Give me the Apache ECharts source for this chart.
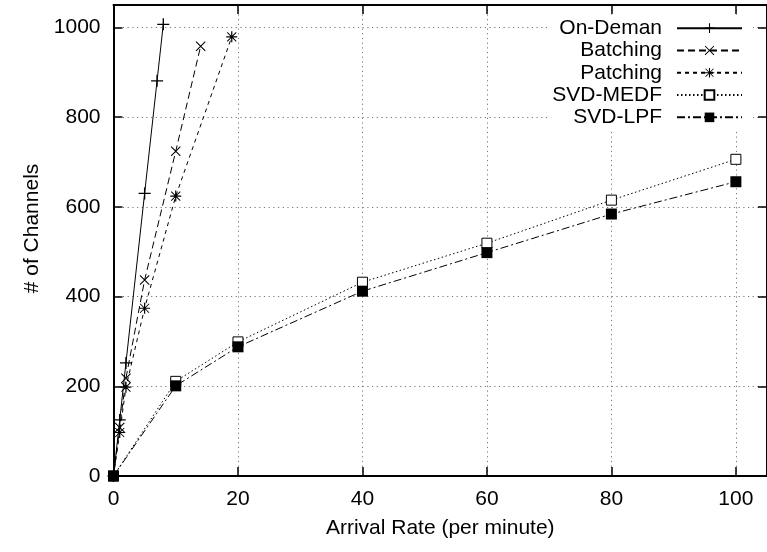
<!DOCTYPE html>
<html>
<head>
<meta charset="utf-8">
<script src="https://cdn.jsdelivr.net/npm/echarts@6/dist/echarts.min.js"></script>
<style>
html,body{margin:0;padding:0;background:#fff;}
#chart{width:767px;height:552px;}
</style>
</head>
<body>
<div id="chart"></div>
<script>
// ---- data ----
const seriesNames = ['On-Deman', 'Batching', 'Patching', 'SVD-MEDF', 'SVD-LPF'];
const xOnDemand = [0, 1, 2, 5, 7, 8];
const yOnDemand = [0, 125, 252, 630, 881, 1007];
const xBatching = [0, 1, 2, 5, 10, 14];
const yBatching = [0, 108, 218, 437, 724, 958];
const xPatching = [0, 1, 2, 5, 10, 19];
const yPatching = [0, 97, 198, 374, 624, 979];
const xSVD = [0, 10, 20, 40, 60, 80, 100];
const yMEDF = [0, 211, 299, 432, 519, 615, 706];
const yLPF = [0, 201, 288, 412, 498, 584, 656];
const xTicks = [0, 20, 40, 60, 80, 100];
const yTicks = [0, 200, 400, 600, 800, 1000];

const FONT = 'Liberation Sans, Arial, Helvetica, sans-serif';
const FS = 21;
function pairs(xs, ys) { return xs.map((x, i) => [x, ys[i]]); }

const plusPath = 'path://M0,4.45H10V5.55H0Z M4.45,0H5.55V10H4.45Z';
const crossPath = 'path://M0,0.75L0.75,0L10,9.25L9.25,10Z M9.25,0L10,0.75L0.75,10L0,9.25Z';
const starPath = 'path://M0,4.45H10V5.55H0Z M4.45,0H5.55V10H4.45Z M0.6,1.2L1.2,0.6L9.4,8.8L8.8,9.4Z M8.8,0.6L9.4,1.2L1.2,9.4L0.6,8.8Z';

const chart = echarts.init(document.getElementById('chart'), null, {renderer: 'canvas'});

function mkLine(name, data, symbol, size, dash, fill) {
  return {
    name: name,
    type: 'line',
    data: data,
    symbol: symbol,
    symbolSize: size,
    showAllSymbol: true,
    animation: false,
    lineStyle: {color: '#000', width: 1, type: dash},
    itemStyle: {color: fill, borderColor: '#000', borderWidth: fill === '#fff' ? 1 : 0},
    emphasis: {disabled: true},
    z: 3
  };
}

const tickFmt = (vals) => (v) => (vals.indexOf(v) >= 0 ? String(v) : '');

chart.setOption({
  animation: false,
  backgroundColor: '#fff',
  textStyle: {fontFamily: FONT, color: '#000'},
  grid: {left: 113.5, top: 5, width: 654, height: 471, containLabel: false},
  xAxis: [{
    type: 'value', min: 0, max: 105, interval: 20, position: 'bottom',
    name: 'Arrival Rate (per minute)', nameLocation: 'middle', nameGap: 42,
    nameTextStyle: {fontFamily: FONT, fontSize: FS, color: '#000'},
    axisLine: {show: true, onZero: false, lineStyle: {color: '#000', width: 2}},
    axisTick: {show: true, inside: true, length: 9, lineStyle: {color: '#000', width: 1.5}},
    axisLabel: {fontFamily: FONT, fontSize: FS, color: '#000', margin: 13, showMaxLabel: false, formatter: tickFmt(xTicks)},
    splitLine: {show: true, lineStyle: {color: '#777', width: 1, type: [1.2, 3.5]}}
  }, {
    type: 'value', min: 0, max: 105, interval: 20, position: 'top',
    axisLine: {show: true, onZero: false, lineStyle: {color: '#000', width: 2}},
    axisTick: {show: true, inside: true, length: 9, lineStyle: {color: '#000', width: 1.5}},
    axisLabel: {show: false},
    splitLine: {show: false}
  }],
  yAxis: [{
    type: 'value', min: 0, max: 1050, interval: 200, position: 'left',
    name: '# of Channels', nameLocation: 'middle', nameGap: 68, nameRotate: 90,
    nameTextStyle: {fontFamily: FONT, fontSize: FS, color: '#000', padding: [0, 0, 0, 24]},
    axisLine: {show: true, onZero: false, lineStyle: {color: '#000', width: 2}},
    axisTick: {show: true, inside: true, length: 9, lineStyle: {color: '#000', width: 1.5}},
    axisLabel: {fontFamily: FONT, fontSize: FS, color: '#000', margin: 13, showMaxLabel: false, formatter: tickFmt(yTicks)},
    splitLine: {show: true, lineStyle: {color: '#777', width: 1, type: [1.2, 3.5]}}
  }, {
    type: 'value', min: 0, max: 1050, interval: 200, position: 'right',
    axisLine: {show: true, onZero: false, lineStyle: {color: '#000', width: 2}},
    axisTick: {show: true, inside: true, length: 9, lineStyle: {color: '#000', width: 1.5}},
    axisLabel: {show: false},
    splitLine: {show: false}
  }],
  legend: {
    orient: 'vertical',
    align: 'right',
    right: 14,
    top: 15,
    itemWidth: 65,
    itemHeight: 12,
    itemGap: 0,
    padding: [2, 10, 2, 2],
    backgroundColor: '#fff',
    selectedMode: false,
    data: seriesNames,
    textStyle: {fontFamily: FONT, fontSize: FS, color: '#000', lineHeight: 22.3, padding: [0, 10, 0, 0]}
  },
  series: [
    mkLine(seriesNames[0], pairs(xOnDemand, yOnDemand), plusPath, 12, 'solid', '#000'),
    mkLine(seriesNames[1], pairs(xBatching, yBatching), crossPath, 10, [7, 4], '#000'),
    mkLine(seriesNames[2], pairs(xPatching, yPatching), starPath, 11, [4, 4], '#000'),
    mkLine(seriesNames[3], pairs(xSVD, yMEDF), 'rect', 10, [1.5, 2.5], '#fff'),
    mkLine(seriesNames[4], pairs(xSVD, yLPF), 'rect', 11, [8, 3, 2, 3], '#000')
  ]
});
</script>
</body>
</html>
